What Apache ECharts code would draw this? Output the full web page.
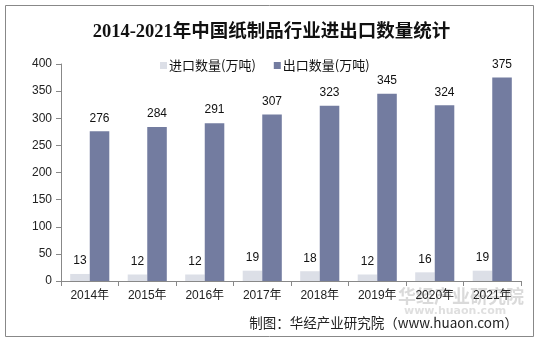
<!DOCTYPE html>
<html>
<head>
<meta charset="utf-8">
<script src="https://cdn.jsdelivr.net/npm/echarts@6/dist/echarts.min.js"></script>
<style>html,body{margin:0;padding:0;background:#fff;}#c{width:543px;height:340px;}</style>
</head>
<body>
<div id="c"></div>
<script>
var categories = ['2014年','2015年','2016年','2017年','2018年','2019年','2020年','2021年'];
var importValues = [13, 12, 12, 19, 18, 12, 16, 19];
var exportValues = [276, 284, 291, 307, 323, 345, 324, 375];
var seriesNames = ['进口数量(万吨)', '出口数量(万吨)'];
var titleText = '2014-2021年中国纸制品行业进出口数量统计';
var sourceText = '制图：华经产业研究院（www.huaon.com）';

var chart = echarts.init(document.getElementById('c'), null, {renderer: 'canvas'});
var labelStyle = {show: true, position: 'top', distance: 7, color: '#111', fontSize: 12, fontFamily: 'Arial, Liberation Sans, sans-serif'};
chart.setOption({
  animation: false,
  backgroundColor: '#fff',
  title: {
    text: titleText,
    left: 'center',
    top: 18,
    textStyle: {fontSize: 18.5, fontWeight: 'bold', color: '#111', fontFamily: "'Liberation Serif', 'Noto Sans CJK SC', serif"}
  },
  legend: {
    top: 54,
    left: 155,
    itemWidth: 7,
    itemHeight: 7,
    itemGap: 18,
    icon: 'rect',
    textStyle: {fontSize: 13, color: '#111', fontFamily: "'Noto Sans CJK SC', sans-serif", padding: [0,0,0,-3]},
    data: seriesNames
  },
  grid: {left: 61, right: 22, top: 64, bottom: 59, containLabel: false},
  xAxis: {
    type: 'category',
    data: categories,
    axisLine: {lineStyle: {color: '#888'}},
    axisTick: {show: true, length: 5, lineStyle: {color: '#888'}},
    axisLabel: {color: '#222', fontSize: 12, margin: 9, fontFamily: "Arial, 'Noto Sans CJK SC', sans-serif"}
  },
  yAxis: {
    type: 'value',
    min: 0, max: 400, interval: 50,
    axisLine: {show: true, lineStyle: {color: '#888'}},
    axisTick: {show: true, length: 5, lineStyle: {color: '#888'}},
    splitLine: {show: false},
    axisLabel: {color: '#222', fontSize: 12, margin: 9, fontFamily: 'Arial, Liberation Sans, sans-serif'}
  },
  series: [
    {name: seriesNames[0], type: 'bar', data: importValues, barGap: '0%', barCategoryGap: '32%',
     itemStyle: {color: '#dcdfe7'}, label: labelStyle},
    {name: seriesNames[1], type: 'bar', data: exportValues, barGap: '0%', barCategoryGap: '32%',
     itemStyle: {color: '#737ca0'}, label: labelStyle}
  ],
  graphic: [
    {type: 'rect', shape: {x: 5.5, y: 5.5, width: 528, height: 331}, style: {fill: 'none', stroke: '#888', lineWidth: 1}, silent: true},
    {type: 'text', left: 398, top: 287, style: {text: '华经产业研究院', fill: 'rgba(150,150,150,0.35)', font: "bold 18px 'Noto Sans CJK SC', sans-serif"}, silent: true},
    {type: 'text', left: 404, top: 306, style: {text: 'www.huaon.com', fill: 'rgba(150,150,150,0.3)', font: "bold 11px 'DejaVu Sans', sans-serif"}, silent: true},
    {type: 'text', right: 25, top: 316, style: {text: sourceText, fill: '#222', font: "13.5px 'Noto Sans CJK SC', sans-serif"}, silent: true}
  ]
});
</script>
</body>
</html>
